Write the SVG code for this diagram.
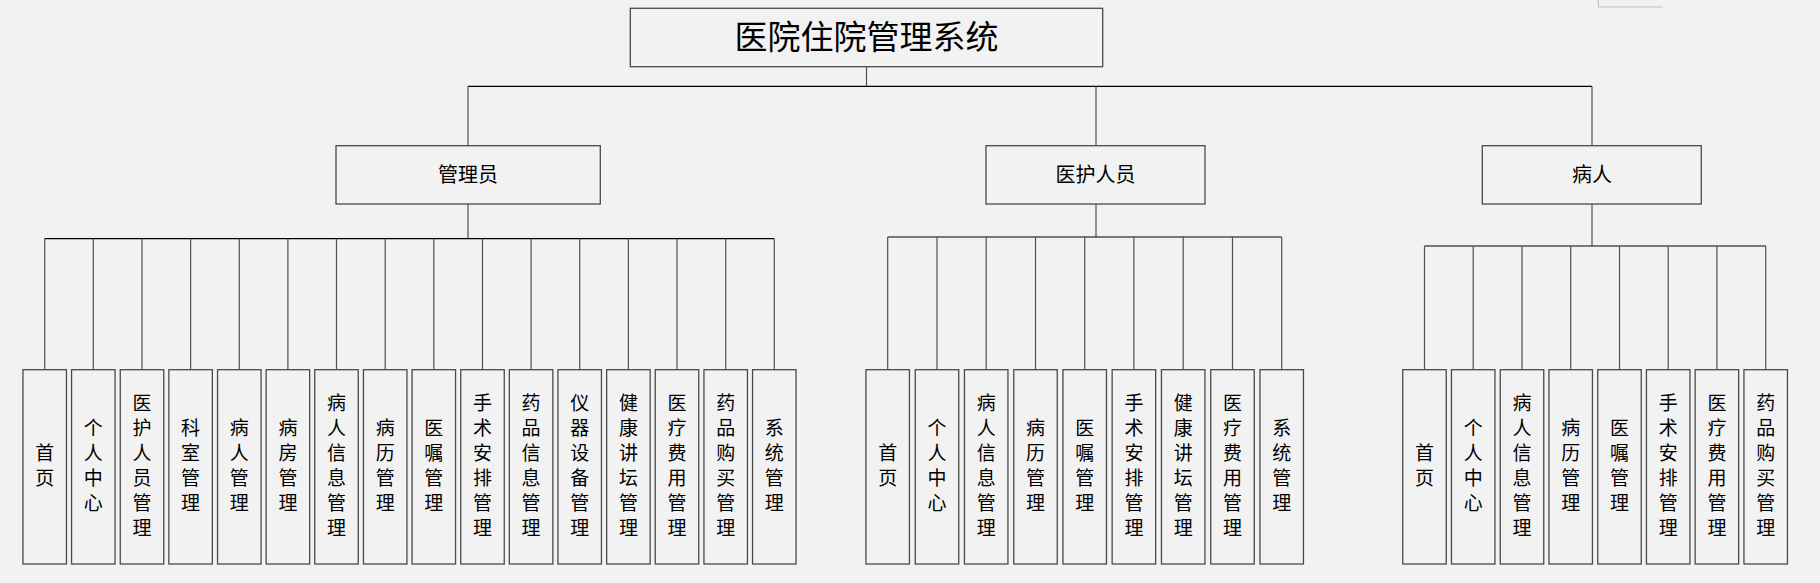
<svg xmlns="http://www.w3.org/2000/svg" width="1820" height="583" viewBox="0 0 1820 583">
<style>
.bg{fill:#f2f2f2}
.box{fill:#f2f2f2;stroke:#4a4a4a;stroke-width:1.3}
.t{font-family:"Noto Sans CJK SC","Noto Sans",sans-serif;fill:#000;text-anchor:middle}
.title{font-size:33px}
.mid{font-size:20px}
.c{font-size:19px}
.h{stroke:#000;stroke-width:1.2;fill:none}
.v{stroke:#505050;stroke-width:1.2;fill:none}
</style>
<rect class="bg" x="0" y="0" width="1820" height="583"/>
<path d="M1598.3 0 V7 H1662.7" stroke="#c0c0c0" stroke-width="1.2" fill="none"/>
<g id="connectors">
<path class="v" d="M866.5 66.7 V86.3"/>
<path class="h" d="M468 86.3 H1592"/>
<path class="v" d="M468 86.3 V145.7 M1096 86.3 V145.7 M1592 86.3 V145.7"/>
<path class="v" d="M468 204 V238.7 M1096 204 V237 M1592 204 V246"/>
<path class="h" d="M44.7 238.7 H774.3"/>
<path class="v" d="M44.7 238.7 V369.7 M93.3 238.7 V369.7 M142 238.7 V369.7 M190.6 238.7 V369.7 M239.3 238.7 V369.7 M287.9 238.7 V369.7 M336.5 238.7 V369.7 M385.2 238.7 V369.7 M433.8 238.7 V369.7 M482.5 238.7 V369.7 M531.1 238.7 V369.7 M579.7 238.7 V369.7 M628.4 238.7 V369.7 M677 238.7 V369.7 M725.7 238.7 V369.7 M774.3 238.7 V369.7"/>
<path class="h" d="M887.7 237 H1281.7"/>
<path class="v" d="M887.7 237 V369.7 M937 237 V369.7 M986.2 237 V369.7 M1035.5 237 V369.7 M1084.7 237 V369.7 M1133.9 237 V369.7 M1183.2 237 V369.7 M1232.5 237 V369.7 M1281.7 237 V369.7"/>
<path class="h" d="M1424.5 246 H1765.7"/>
<path class="v" d="M1424.5 246 V369.7 M1473.2 246 V369.7 M1522 246 V369.7 M1570.7 246 V369.7 M1619.5 246 V369.7 M1668.2 246 V369.7 M1716.9 246 V369.7 M1765.7 246 V369.7"/>
</g>
<g id="root"><rect class="box" x="630.3" y="8.3" width="472.4" height="58.4"/><text class="t title" x="866.5" y="48.5">医院住院管理系统</text></g>
<g id="admin"><rect class="box" x="336" y="145.7" width="264.3" height="58.3"/><text class="t mid" x="468" y="182.3">管理员</text></g>
<g id="staff"><rect class="box" x="986" y="145.7" width="219" height="58.3"/><text class="t mid" x="1095.5" y="182.3">医护人员</text></g>
<g id="patient"><rect class="box" x="1482.3" y="145.7" width="219" height="58.3"/><text class="t mid" x="1592" y="182.3">病人</text></g>

<g id="a1"><rect class="box" x="22.95" y="369.7" width="43.5" height="194.3"/><text class="t c" x="44.7" y="460.3">首<tspan x="44.7" dy="25">页</tspan></text></g>
<g id="a2"><rect class="box" x="71.55" y="369.7" width="43.5" height="194.3"/><text class="t c" x="93.3" y="435.3">个<tspan x="93.3" dy="25">人</tspan><tspan x="93.3" dy="25">中</tspan><tspan x="93.3" dy="25">心</tspan></text></g>
<g id="a3"><rect class="box" x="120.25" y="369.7" width="43.5" height="194.3"/><text class="t c" x="142" y="410.3">医<tspan x="142" dy="25">护</tspan><tspan x="142" dy="25">人</tspan><tspan x="142" dy="25">员</tspan><tspan x="142" dy="25">管</tspan><tspan x="142" dy="25">理</tspan></text></g>
<g id="a4"><rect class="box" x="168.85" y="369.7" width="43.5" height="194.3"/><text class="t c" x="190.6" y="435.3">科<tspan x="190.6" dy="25">室</tspan><tspan x="190.6" dy="25">管</tspan><tspan x="190.6" dy="25">理</tspan></text></g>
<g id="a5"><rect class="box" x="217.55" y="369.7" width="43.5" height="194.3"/><text class="t c" x="239.3" y="435.3">病<tspan x="239.3" dy="25">人</tspan><tspan x="239.3" dy="25">管</tspan><tspan x="239.3" dy="25">理</tspan></text></g>
<g id="a6"><rect class="box" x="266.15" y="369.7" width="43.5" height="194.3"/><text class="t c" x="287.9" y="435.3">病<tspan x="287.9" dy="25">房</tspan><tspan x="287.9" dy="25">管</tspan><tspan x="287.9" dy="25">理</tspan></text></g>
<g id="a7"><rect class="box" x="314.75" y="369.7" width="43.5" height="194.3"/><text class="t c" x="336.5" y="410.3">病<tspan x="336.5" dy="25">人</tspan><tspan x="336.5" dy="25">信</tspan><tspan x="336.5" dy="25">息</tspan><tspan x="336.5" dy="25">管</tspan><tspan x="336.5" dy="25">理</tspan></text></g>
<g id="a8"><rect class="box" x="363.45" y="369.7" width="43.5" height="194.3"/><text class="t c" x="385.2" y="435.3">病<tspan x="385.2" dy="25">历</tspan><tspan x="385.2" dy="25">管</tspan><tspan x="385.2" dy="25">理</tspan></text></g>
<g id="a9"><rect class="box" x="412.05" y="369.7" width="43.5" height="194.3"/><text class="t c" x="433.8" y="435.3">医<tspan x="433.8" dy="25">嘱</tspan><tspan x="433.8" dy="25">管</tspan><tspan x="433.8" dy="25">理</tspan></text></g>
<g id="a10"><rect class="box" x="460.75" y="369.7" width="43.5" height="194.3"/><text class="t c" x="482.5" y="410.3">手<tspan x="482.5" dy="25">术</tspan><tspan x="482.5" dy="25">安</tspan><tspan x="482.5" dy="25">排</tspan><tspan x="482.5" dy="25">管</tspan><tspan x="482.5" dy="25">理</tspan></text></g>
<g id="a11"><rect class="box" x="509.35" y="369.7" width="43.5" height="194.3"/><text class="t c" x="531.1" y="410.3">药<tspan x="531.1" dy="25">品</tspan><tspan x="531.1" dy="25">信</tspan><tspan x="531.1" dy="25">息</tspan><tspan x="531.1" dy="25">管</tspan><tspan x="531.1" dy="25">理</tspan></text></g>
<g id="a12"><rect class="box" x="557.95" y="369.7" width="43.5" height="194.3"/><text class="t c" x="579.7" y="410.3">仪<tspan x="579.7" dy="25">器</tspan><tspan x="579.7" dy="25">设</tspan><tspan x="579.7" dy="25">备</tspan><tspan x="579.7" dy="25">管</tspan><tspan x="579.7" dy="25">理</tspan></text></g>
<g id="a13"><rect class="box" x="606.65" y="369.7" width="43.5" height="194.3"/><text class="t c" x="628.4" y="410.3">健<tspan x="628.4" dy="25">康</tspan><tspan x="628.4" dy="25">讲</tspan><tspan x="628.4" dy="25">坛</tspan><tspan x="628.4" dy="25">管</tspan><tspan x="628.4" dy="25">理</tspan></text></g>
<g id="a14"><rect class="box" x="655.25" y="369.7" width="43.5" height="194.3"/><text class="t c" x="677" y="410.3">医<tspan x="677" dy="25">疗</tspan><tspan x="677" dy="25">费</tspan><tspan x="677" dy="25">用</tspan><tspan x="677" dy="25">管</tspan><tspan x="677" dy="25">理</tspan></text></g>
<g id="a15"><rect class="box" x="703.95" y="369.7" width="43.5" height="194.3"/><text class="t c" x="725.7" y="410.3">药<tspan x="725.7" dy="25">品</tspan><tspan x="725.7" dy="25">购</tspan><tspan x="725.7" dy="25">买</tspan><tspan x="725.7" dy="25">管</tspan><tspan x="725.7" dy="25">理</tspan></text></g>
<g id="a16"><rect class="box" x="752.55" y="369.7" width="43.5" height="194.3"/><text class="t c" x="774.3" y="435.3">系<tspan x="774.3" dy="25">统</tspan><tspan x="774.3" dy="25">管</tspan><tspan x="774.3" dy="25">理</tspan></text></g>

<g id="s1"><rect class="box" x="865.95" y="369.7" width="43.5" height="194.3"/><text class="t c" x="887.7" y="460.3">首<tspan x="887.7" dy="25">页</tspan></text></g>
<g id="s2"><rect class="box" x="915.25" y="369.7" width="43.5" height="194.3"/><text class="t c" x="937" y="435.3">个<tspan x="937" dy="25">人</tspan><tspan x="937" dy="25">中</tspan><tspan x="937" dy="25">心</tspan></text></g>
<g id="s3"><rect class="box" x="964.45" y="369.7" width="43.5" height="194.3"/><text class="t c" x="986.2" y="410.3">病<tspan x="986.2" dy="25">人</tspan><tspan x="986.2" dy="25">信</tspan><tspan x="986.2" dy="25">息</tspan><tspan x="986.2" dy="25">管</tspan><tspan x="986.2" dy="25">理</tspan></text></g>
<g id="s4"><rect class="box" x="1013.75" y="369.7" width="43.5" height="194.3"/><text class="t c" x="1035.5" y="435.3">病<tspan x="1035.5" dy="25">历</tspan><tspan x="1035.5" dy="25">管</tspan><tspan x="1035.5" dy="25">理</tspan></text></g>
<g id="s5"><rect class="box" x="1062.95" y="369.7" width="43.5" height="194.3"/><text class="t c" x="1084.7" y="435.3">医<tspan x="1084.7" dy="25">嘱</tspan><tspan x="1084.7" dy="25">管</tspan><tspan x="1084.7" dy="25">理</tspan></text></g>
<g id="s6"><rect class="box" x="1112.15" y="369.7" width="43.5" height="194.3"/><text class="t c" x="1133.9" y="410.3">手<tspan x="1133.9" dy="25">术</tspan><tspan x="1133.9" dy="25">安</tspan><tspan x="1133.9" dy="25">排</tspan><tspan x="1133.9" dy="25">管</tspan><tspan x="1133.9" dy="25">理</tspan></text></g>
<g id="s7"><rect class="box" x="1161.45" y="369.7" width="43.5" height="194.3"/><text class="t c" x="1183.2" y="410.3">健<tspan x="1183.2" dy="25">康</tspan><tspan x="1183.2" dy="25">讲</tspan><tspan x="1183.2" dy="25">坛</tspan><tspan x="1183.2" dy="25">管</tspan><tspan x="1183.2" dy="25">理</tspan></text></g>
<g id="s8"><rect class="box" x="1210.75" y="369.7" width="43.5" height="194.3"/><text class="t c" x="1232.5" y="410.3">医<tspan x="1232.5" dy="25">疗</tspan><tspan x="1232.5" dy="25">费</tspan><tspan x="1232.5" dy="25">用</tspan><tspan x="1232.5" dy="25">管</tspan><tspan x="1232.5" dy="25">理</tspan></text></g>
<g id="s9"><rect class="box" x="1259.95" y="369.7" width="43.5" height="194.3"/><text class="t c" x="1281.7" y="435.3">系<tspan x="1281.7" dy="25">统</tspan><tspan x="1281.7" dy="25">管</tspan><tspan x="1281.7" dy="25">理</tspan></text></g>

<g id="p1"><rect class="box" x="1402.75" y="369.7" width="43.5" height="194.3"/><text class="t c" x="1424.5" y="460.3">首<tspan x="1424.5" dy="25">页</tspan></text></g>
<g id="p2"><rect class="box" x="1451.45" y="369.7" width="43.5" height="194.3"/><text class="t c" x="1473.2" y="435.3">个<tspan x="1473.2" dy="25">人</tspan><tspan x="1473.2" dy="25">中</tspan><tspan x="1473.2" dy="25">心</tspan></text></g>
<g id="p3"><rect class="box" x="1500.25" y="369.7" width="43.5" height="194.3"/><text class="t c" x="1522" y="410.3">病<tspan x="1522" dy="25">人</tspan><tspan x="1522" dy="25">信</tspan><tspan x="1522" dy="25">息</tspan><tspan x="1522" dy="25">管</tspan><tspan x="1522" dy="25">理</tspan></text></g>
<g id="p4"><rect class="box" x="1548.95" y="369.7" width="43.5" height="194.3"/><text class="t c" x="1570.7" y="435.3">病<tspan x="1570.7" dy="25">历</tspan><tspan x="1570.7" dy="25">管</tspan><tspan x="1570.7" dy="25">理</tspan></text></g>
<g id="p5"><rect class="box" x="1597.75" y="369.7" width="43.5" height="194.3"/><text class="t c" x="1619.5" y="435.3">医<tspan x="1619.5" dy="25">嘱</tspan><tspan x="1619.5" dy="25">管</tspan><tspan x="1619.5" dy="25">理</tspan></text></g>
<g id="p6"><rect class="box" x="1646.45" y="369.7" width="43.5" height="194.3"/><text class="t c" x="1668.2" y="410.3">手<tspan x="1668.2" dy="25">术</tspan><tspan x="1668.2" dy="25">安</tspan><tspan x="1668.2" dy="25">排</tspan><tspan x="1668.2" dy="25">管</tspan><tspan x="1668.2" dy="25">理</tspan></text></g>
<g id="p7"><rect class="box" x="1695.15" y="369.7" width="43.5" height="194.3"/><text class="t c" x="1716.9" y="410.3">医<tspan x="1716.9" dy="25">疗</tspan><tspan x="1716.9" dy="25">费</tspan><tspan x="1716.9" dy="25">用</tspan><tspan x="1716.9" dy="25">管</tspan><tspan x="1716.9" dy="25">理</tspan></text></g>
<g id="p8"><rect class="box" x="1743.95" y="369.7" width="43.5" height="194.3"/><text class="t c" x="1765.7" y="410.3">药<tspan x="1765.7" dy="25">品</tspan><tspan x="1765.7" dy="25">购</tspan><tspan x="1765.7" dy="25">买</tspan><tspan x="1765.7" dy="25">管</tspan><tspan x="1765.7" dy="25">理</tspan></text></g>
</svg>
